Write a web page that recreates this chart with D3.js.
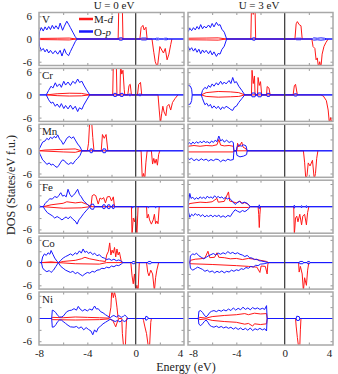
<!DOCTYPE html>
<html>
<head>
<meta charset="utf-8">
<script src="https://cdn.jsdelivr.net/npm/d3@7"></script>
<style>
  body { margin: 0; background: #fff; }
  svg text { font-family: "Liberation Serif", "Times New Roman", serif; fill: #222; }
  .frame { fill: none; stroke: #a8a8a8; stroke-width: 1.5; }
  .tick line { stroke: #999; }
  .axis path { display: none; }
  .zero { stroke: #444; stroke-width: 1.3; }
  .pline { fill: none; stroke: #1818ff; stroke-width: 1; }
  .dline { fill: none; stroke: #ff1818; stroke-width: 1; }
</style>
</head>
<body>
<div id="plot"></div>
<script>
// rows (metals) and columns (Hubbard U)
var metals = ["V", "Cr", "Mn", "Fe", "Co", "Ni"];
var uLabels = ["U = 0 eV", "U = 3 eV"];
var xTicks = [-8, -4, 0, 4];
var yTicks = [6, 0, -6];

// ---- V ----
var V0_pUp = [[-8.0,0],[-7.95,2.0],[-7.8,3.0],[-7.65,2.1],[-7.5,3.2],[-7.35,2.4],[-7.2,3.3],[-7.05,2.5],[-6.9,3.6],[-6.75,2.7],[-6.6,3.5],[-6.4,2.6],[-6.25,4.2],[-6.05,2.3],[-5.9,3.4],[-5.7,4.7],[-5.55,3.9],[-5.4,3.0],[-5.2,1.8],[-5.0,0.6],[-4.85,0],[-1.4,0],[-1.35,0.3],[-1.1,0.3],[-1.05,0],[0.4,0],[0.5,0.25],[0.9,0.25],[0.95,0],[1.6,0],[1.7,0.2],[1.9,0.2],[2.0,0],[2.3,0],[2.4,0.2],[2.6,0.2],[2.7,0],[4,0]];
var V0_pDn = [[-8.0,0],[-7.95,-2.0],[-7.8,-3.0],[-7.65,-2.5],[-7.5,-3.4],[-7.35,-2.7],[-7.2,-3.7],[-7.05,-3.0],[-6.85,-3.9],[-6.65,-3.1],[-6.45,-4.0],[-6.25,-3.0],[-6.1,-4.5],[-5.9,-2.6],[-5.75,-3.8],[-5.55,-4.4],[-5.4,-3.3],[-5.2,-2.0],[-5.0,-0.7],[-4.85,0],[-1.4,0],[-1.35,-0.3],[-1.1,-0.3],[-1.05,0],[0.4,0],[0.5,-0.25],[0.9,-0.25],[0.95,0],[1.6,0],[1.7,-0.2],[1.9,-0.2],[2.0,0],[2.3,0],[2.4,-0.2],[2.6,-0.2],[2.7,0],[4,0]];
var V0_dUp = [[-8,0],[-7.9,0.15],[-6.5,0.2],[-5.5,0.25],[-4.9,0],[-1.45,0],[-1.4,8],[-1.1,8],[-1.05,0],[0.35,0],[0.45,3.0],[0.6,3.6],[0.7,2.4],[0.85,3.1],[0.95,0]];
var V0_dDn = [[-8,0],[-7.9,-0.15],[-6.5,-0.2],[-5.5,-0.25],[-4.9,0],[1.35,0],[1.5,-3.5],[1.62,-6],[1.8,-7.5],[2.0,-2.0],[2.3,-3.7],[2.45,-2.5],[2.6,-5.5],[2.75,-4.0],[2.9,-1.5],[3.0,0]];
var V3_pUp = [[-8,1.9],[-7.85,2.8],[-7.7,2.2],[-7.55,3.0],[-7.4,2.4],[-7.25,3.3],[-7.1,2.6],[-6.95,3.8],[-6.8,2.7],[-6.65,3.4],[-6.5,2.9],[-6.3,3.7],[-6.15,3.0],[-6.0,4.1],[-5.85,3.2],[-5.65,4.4],[-5.5,3.6],[-5.35,3.8],[-5.2,2.6],[-5.0,1.8],[-4.8,0],[-2.7,0],[-2.65,0.3],[-2.45,0.3],[-2.4,0],[0.9,0],[0.95,0.2],[1.35,0.2],[1.4,0],[2.3,0],[2.4,0.3],[2.7,0.2],[3.0,0.3],[3.3,0.2],[3.5,0],[4,0]];
var V3_pDn = [[-8,-1.9],[-7.85,-2.9],[-7.7,-2.3],[-7.55,-3.2],[-7.4,-2.5],[-7.25,-3.5],[-7.1,-2.7],[-6.95,-3.9],[-6.8,-2.9],[-6.65,-3.6],[-6.5,-3.0],[-6.3,-3.9],[-6.15,-3.1],[-6.0,-4.2],[-5.85,-3.4],[-5.65,-4.6],[-5.5,-3.8],[-5.35,-4.0],[-5.2,-2.8],[-5.0,-1.9],[-4.8,0],[-2.7,0],[-2.65,-0.3],[-2.45,-0.3],[-2.4,0],[0.9,0],[0.95,-0.2],[1.35,-0.2],[1.4,0],[2.3,0],[2.4,-0.3],[2.7,-0.2],[3.0,-0.3],[3.3,-0.2],[3.5,0],[4,0]];
var V3_dUp = [[-8,0.2],[-6.5,0.25],[-5.5,0.3],[-4.8,0],[-2.8,0],[-2.75,8],[-2.6,6.5],[-2.45,8],[-2.4,0],[0.85,0],[0.95,4.0],[1.05,4.6],[1.2,3.8],[1.35,3.5],[1.45,0]];
var V3_dDn = [[-8,-0.2],[-6.5,-0.25],[-5.5,-0.3],[-4.8,0],[2.25,0],[2.35,-2],[2.5,-2.5],[2.6,-5.5],[2.7,-5],[2.8,-7.5],[2.9,-6],[3.0,-7.5],[3.1,-4],[3.25,-2],[3.4,-1],[3.6,0]];

// ---- Cr ----
var Cr0_pUp = [[-8,0],[-7.4,0],[-7.2,1.2],[-7.0,2.3],[-6.85,1.8],[-6.65,3.2],[-6.5,2.2],[-6.3,2.9],[-6.15,2.0],[-5.95,3.6],[-5.8,2.6],[-5.6,3.4],[-5.4,2.5],[-5.2,3.6],[-5.0,3.0],[-4.8,4.2],[-4.65,3.3],[-4.45,3.6],[-4.3,2.6],[-4.1,1.5],[-3.8,0],[-1.85,0],[-1.8,0.4],[-1.6,0.4],[-1.55,0],[-1.3,0],[-1.25,0.4],[-1.05,0.4],[-1.0,0],[-0.6,0],[-0.55,0.2],[-0.4,0.2],[-0.35,0],[0.2,0],[0.25,0.2],[0.45,0.2],[0.5,0],[4,0]];
var Cr0_pDn = [[-8,0],[-7.4,0],[-7.2,-1.3],[-7.0,-2.2],[-6.85,-1.9],[-6.65,-3.0],[-6.5,-2.4],[-6.3,-3.3],[-6.15,-2.3],[-5.95,-3.6],[-5.8,-2.8],[-5.6,-3.7],[-5.4,-2.7],[-5.2,-3.8],[-5.0,-3.0],[-4.8,-4.4],[-4.65,-3.4],[-4.45,-3.8],[-4.3,-2.7],[-4.1,-1.6],[-3.8,0],[-1.85,0],[-1.8,-0.4],[-1.6,-0.4],[-1.55,0],[-1.3,0],[-1.25,-0.4],[-1.05,-0.4],[-1.0,0],[-0.6,0],[-0.55,-0.2],[-0.4,-0.2],[-0.35,0],[0.2,0],[0.25,-0.2],[0.45,-0.2],[0.5,0],[4,0]];
var Cr0_dUp = [[-7.4,0],[-6.5,0.3],[-5.5,0.45],[-4.5,0.4],[-3.8,0],[-1.9,0],[-1.85,8],[-1.6,8],[-1.55,0],[-1.3,0],[-1.25,8],[-1.15,5.5],[-1.05,6.5],[-0.95,1.5],[-0.9,0],[-0.65,0],[-0.55,2.5],[-0.45,2.8],[-0.35,0],[0.15,0],[0.25,2.8],[0.4,3.3],[0.5,0]];
var Cr0_dDn = [[-7.4,0],[-6.5,-0.2],[-5.5,-0.3],[-4.5,-0.25],[-3.8,0],[1.85,0],[1.95,-4],[2.05,-7.5],[2.15,-5],[2.25,-3],[2.35,-4.5],[2.5,-5.5],[2.6,-3],[2.75,-2.5],[2.9,-4],[3.05,-2],[3.25,-1],[3.5,0]];
var Cr3_pUp = [[-8.05,2.6],[-7.8,2.3],[-7.7,1.5],[-7.65,0],[-6.9,0],[-6.8,1.2],[-6.6,2.0],[-6.45,1.6],[-6.3,2.5],[-6.15,2.0],[-6.0,2.9],[-5.85,2.3],[-5.65,3.2],[-5.5,2.6],[-5.3,3.6],[-5.15,2.8],[-5.0,3.4],[-4.85,2.9],[-4.6,3.8],[-4.45,3.0],[-4.3,4.6],[-4.15,3.2],[-4.0,3.5],[-3.8,2.3],[-3.55,1.2],[-3.3,0],[-2.75,0],[-2.7,0.5],[-2.45,0.5],[-2.4,0],[-2.25,0],[-2.2,0.5],[-1.95,0.5],[-1.9,0],[-1.5,0],[-1.45,0.4],[-1.25,0.4],[-1.2,0],[0.75,0],[0.8,0.3],[1.0,0.3],[1.05,0],[4,0]];
var Cr3_pDn = [[-8.05,-2.6],[-7.8,-2.4],[-7.7,-1.5],[-7.65,0],[-6.9,0],[-6.8,-1.0],[-6.6,-2.6],[-6.45,-2.2],[-6.3,-3.0],[-6.15,-2.5],[-6.0,-3.5],[-5.85,-2.9],[-5.65,-3.6],[-5.5,-3.0],[-5.3,-3.9],[-5.15,-3.2],[-5.0,-3.6],[-4.85,-3.0],[-4.6,-3.5],[-4.45,-3.9],[-4.3,-4.1],[-4.15,-3.2],[-4.0,-3.0],[-3.8,-2.0],[-3.55,-1.0],[-3.3,0],[-2.75,0],[-2.7,-0.5],[-2.45,-0.5],[-2.4,0],[-2.25,0],[-2.2,-0.5],[-1.95,-0.5],[-1.9,0],[-1.5,0],[-1.45,-0.4],[-1.25,-0.4],[-1.2,0],[0.75,0],[0.8,-0.3],[1.0,-0.3],[1.05,0],[4,0]];
var Cr3_dUp = [[-6.9,0],[-6.5,0.6],[-5.5,0.9],[-4.5,0.8],[-3.8,0.6],[-3.3,0],[-2.75,0],[-2.7,6.5],[-2.6,3],[-2.5,5],[-2.45,0],[-2.25,0],[-2.2,4.6],[-2.1,2.5],[-2.0,3.5],[-1.9,0],[-1.5,0],[-1.45,2.2],[-1.3,1.8],[-1.2,0],[0.7,0],[0.8,2.4],[0.9,2.8],[1.05,0]];
var Cr3_dDn = [[-6.9,0],[-6.5,-0.4],[-5.5,-0.6],[-4.5,-0.5],[-3.8,-0.4],[-3.3,0],[3.0,0],[3.2,-0.3],[3.45,-1.5],[3.6,-4],[3.7,-7.5],[3.8,-6],[3.9,-7.5],[4,-7]];

// ---- Mn ----
var Mn0_pUp = [[-8.05,0],[-7.9,1.0],[-7.7,2.3],[-7.5,2.6],[-7.35,3.3],[-7.2,2.9],[-7.05,3.6],[-6.9,3.2],[-6.75,3.8],[-6.6,3.4],[-6.45,4.2],[-6.3,3.1],[-6.15,2.6],[-6.0,1.7],[-5.85,2.4],[-5.7,3.3],[-5.5,3.8],[-5.3,3.3],[-5.15,3.7],[-4.95,2.6],[-4.8,1.8],[-4.6,1.0],[-4.45,0],[-3.8,0],[-3.75,0.5],[-3.6,0.5],[-3.55,0],[-2.75,0],[-2.7,0.5],[-2.5,0.5],[-2.45,0],[4,0]];
var Mn0_pDn = [[-8.05,0],[-7.9,-1.0],[-7.7,-2.4],[-7.5,-3.0],[-7.35,-3.6],[-7.15,-3.2],[-7.0,-3.8],[-6.85,-3.5],[-6.7,-4.0],[-6.5,-4.4],[-6.35,-3.8],[-6.2,-3.0],[-6.05,-2.4],[-5.9,-2.6],[-5.75,-3.2],[-5.55,-3.6],[-5.35,-3.1],[-5.2,-3.5],[-5.0,-2.6],[-4.8,-2.0],[-4.6,-1.2],[-4.45,0],[-3.8,0],[-3.75,-0.5],[-3.6,-0.5],[-3.55,0],[-2.75,0],[-2.7,-0.5],[-2.5,-0.5],[-2.45,0],[4,0]];
var Mn0_dUp = [[-8,0],[-7.5,0.2],[-6,0.4],[-5,0.5],[-4.5,0],[-4.0,0],[-3.9,2],[-3.8,8],[-3.65,8],[-3.55,3.5],[-3.45,0],[-2.85,0],[-2.75,4.3],[-2.6,3.3],[-2.45,4.3],[-2.3,0]];
var Mn0_dDn = [[-8,0],[-6,-0.3],[-5,-0.4],[-4.5,0],[0.45,0],[0.55,-7.5],[0.65,-6],[0.75,-7.5],[0.85,-3],[0.95,0],[1.3,0],[1.4,-3.5],[1.5,-2.0],[1.6,-3.3],[1.7,-2.2],[1.8,-3.8],[1.9,-1],[2.0,0]];
var Mn3_pUp = [[-8.1,0],[-8.05,1.5],[-7.9,2.2],[-7.75,1.7],[-7.6,2.3],[-7.45,1.9],[-7.3,2.4],[-7.15,2.0],[-7.0,2.5],[-6.85,2.1],[-6.7,2.6],[-6.55,2.2],[-6.4,2.4],[-6.2,2.0],[-6.05,2.6],[-5.9,2.2],[-5.75,2.8],[-5.6,2.4],[-5.45,3.9],[-5.3,2.6],[-5.15,3.0],[-5.0,2.3],[-4.8,2.8],[-4.6,2.2],[-4.4,2.5],[-4.25,2.2],[-4.2,0],[-4.0,0],[-3.95,1.0],[-3.8,1.6],[-3.6,1.2],[-3.4,1.6],[-3.2,1.3],[-3.1,0],[4,0]];
var Mn3_pDn = [[-8.1,0],[-8.05,-1.6],[-7.9,-2.3],[-7.7,-2.0],[-7.5,-2.6],[-7.3,-2.2],[-7.1,-2.6],[-6.9,-2.1],[-6.7,-2.5],[-6.5,-2.2],[-6.3,-2.7],[-6.1,-2.3],[-5.9,-2.6],[-5.7,-2.2],[-5.5,-2.3],[-5.3,-2.9],[-5.1,-2.4],[-4.9,-2.7],[-4.7,-2.2],[-4.5,-2.5],[-4.25,-2.3],[-4.2,0],[-4.0,0],[-3.95,-1.2],[-3.7,-1.6],[-3.4,-1.4],[-3.15,-1.0],[-3.1,0],[4,0]];
var Mn3_dUp = [[-8.1,0],[-8.0,1.2],[-7.5,1.4],[-7,1.2],[-6.5,1.4],[-6,1.3],[-5.6,1.6],[-5.45,3.0],[-5.3,1.5],[-5,1.3],[-4.6,1.4],[-4.25,1.2],[-4.2,0],[-3.95,0],[-3.9,2.0],[-3.8,1.0],[-3.7,1.5],[-3.55,2.3],[-3.45,1.0],[-3.2,0.5],[-3.1,0]];
var Mn3_dDn = [[-8.1,0],[-8,-0.3],[-4.25,-0.3],[-4.2,0],[1.55,0],[1.65,-3],[1.75,-7.5],[1.85,-6.5],[1.95,-3.2],[2.1,-4],[2.3,-2.5],[2.45,-7.5],[2.55,-6],[2.65,-2],[2.75,0]];

// ---- Fe ----
var Fe0_pUp = [[-8,0],[-7.95,0.3],[-7.85,0],[-7.65,0],[-7.5,0.8],[-7.3,1.5],[-7.1,2.1],[-6.9,2.0],[-6.7,2.7],[-6.5,2.4],[-6.35,3.0],[-6.2,3.7],[-6.05,2.8],[-5.9,3.0],[-5.75,2.6],[-5.6,4.6],[-5.45,3.3],[-5.3,2.6],[-5.15,3.0],[-5.0,3.6],[-4.8,4.6],[-4.65,3.2],[-4.5,2.6],[-4.3,1.5],[-4.05,0.8],[-3.8,0],[-3.7,0.6],[-3.5,0.7],[-3.4,0],[-2.75,0],[-2.7,0.5],[-2.55,0.5],[-2.5,0],[-2.35,0],[-2.3,0.5],[-2.15,0.5],[-2.1,0],[-1.95,0],[-1.9,0.5],[-1.8,0.5],[-1.75,0],[4,0]];
var Fe0_pDn = [[-8,0],[-7.95,-0.3],[-7.85,0],[-7.65,0],[-7.5,-0.8],[-7.3,-1.6],[-7.1,-2.0],[-6.9,-2.4],[-6.7,-3.0],[-6.5,-2.6],[-6.3,-3.0],[-6.1,-3.5],[-5.9,-3.0],[-5.75,-2.7],[-5.6,-3.2],[-5.4,-2.6],[-5.2,-3.3],[-5.0,-3.8],[-4.85,-4.6],[-4.7,-3.5],[-4.5,-2.7],[-4.3,-1.8],[-4.05,-0.9],[-3.8,0],[-3.7,-0.6],[-3.5,-0.7],[-3.4,0],[-2.75,0],[-2.7,-0.5],[-2.55,-0.5],[-2.5,0],[-2.35,0],[-2.3,-0.5],[-2.15,-0.5],[-2.1,0],[-1.95,0],[-1.9,-0.5],[-1.8,-0.5],[-1.75,0],[-0.3,0],[-0.25,-0.3],[-0.15,0],[1.0,0],[1.05,-0.3],[1.15,0],[1.6,0],[1.65,-0.3],[1.75,0],[4,0]];
var Fe0_dUp = [[-7.65,0],[-7,0.5],[-6,0.9],[-5.7,1.3],[-5,1.0],[-4.5,1.2],[-4,0.6],[-3.7,0],[-3.6,2.9],[-3.45,3.2],[-3.3,2.9],[-3.1,0.7],[-2.95,2.3],[-2.8,2.0],[-2.65,2.4],[-2.5,1.0],[-2.35,2.6],[-2.15,2.7],[-2.0,1.5],[-1.85,2.6],[-1.75,0]];
var Fe0_dDn = [[-7.65,0],[-6,-0.4],[-4.5,-0.3],[-3.8,0],[-0.35,0],[-0.3,-7.5],[-0.2,-3],[-0.1,-4],[0.0,-2.5],[0.1,-7.5],[0.2,0],[0.9,0],[0.95,-3],[1.05,-2],[1.15,-3.5],[1.3,-4.6],[1.45,-3.5],[1.55,-2],[1.65,-4.5],[1.75,-3.8],[1.85,-4.5],[1.95,0]];
var Fe3_pUp = [[-8.0,0],[-7.95,1.5],[-7.85,3.5],[-7.75,2.2],[-7.6,2.5],[-7.45,1.9],[-7.3,2.4],[-7.15,2.0],[-7.0,2.6],[-6.85,2.2],[-6.7,2.5],[-6.55,2.1],[-6.4,2.8],[-6.25,2.3],[-6.1,2.6],[-5.95,2.2],[-5.8,2.9],[-5.65,2.4],[-5.5,2.7],[-5.35,2.3],[-5.2,2.6],[-5.05,2.1],[-4.9,2.5],[-4.75,2.0],[-4.6,2.3],[-4.45,1.9],[-4.3,1.3],[-4.1,0.6],[-3.95,1.0],[-3.75,1.4],[-3.55,0.9],[-3.35,1.2],[-3.1,0.9],[-2.95,0.4],[-2.85,0],[-2.15,0],[-2.1,0.5],[-2.05,0],[0.75,0],[0.8,0.4],[0.85,0],[1.35,0],[1.4,0.3],[1.45,0],[1.75,0],[1.8,0.3],[1.85,0],[4,0]];
var Fe3_pDn = [[-8,0],[-7.95,-1.5],[-7.85,-2.8],[-7.7,-2.0],[-7.55,-2.4],[-7.4,-1.8],[-7.25,-2.3],[-7.1,-2.0],[-6.95,-2.6],[-6.8,-2.1],[-6.6,-2.7],[-6.45,-2.3],[-6.3,-2.6],[-6.1,-2.2],[-5.95,-2.7],[-5.8,-2.3],[-5.6,-2.6],[-5.45,-2.2],[-5.3,-2.8],[-5.1,-2.4],[-4.9,-2.8],[-4.7,-2.3],[-4.5,-2.6],[-4.3,-1.6],[-4.1,-0.8],[-3.9,-1.2],[-3.7,-1.5],[-3.5,-1.0],[-3.3,-1.3],[-3.1,-0.9],[-2.95,-0.4],[-2.85,0],[-2.15,0],[-2.1,-0.5],[-2.05,0],[0.75,0],[0.8,-0.4],[0.85,0],[1.35,0],[1.4,-0.3],[1.45,0],[1.75,0],[1.8,-0.3],[1.85,0],[4,0]];
var Fe3_dUp = [[-8,0],[-7.9,0.8],[-7.5,1.0],[-7,1.2],[-6.5,1.1],[-6.0,1.3],[-5.6,2.2],[-5.5,1.2],[-5.0,1.4],[-4.65,3.9],[-4.55,1.5],[-4.3,1.3],[-4.0,1.0],[-3.7,1.5],[-3.5,0.8],[-3.3,1.1],[-3.0,0.6],[-2.85,0]];
var Fe3_dDn = [[-8,0],[-7.9,-0.2],[-3,-0.2],[-2.85,0],[-2.2,0],[-2.15,-2],[-2.1,-5.5],[-2.05,-2],[-2.0,0],[0.75,0],[0.8,-7.5],[0.9,-3],[1.0,-2.5],[1.1,-4],[1.25,-2],[1.4,-4.8],[1.5,-2.5],[1.65,-2],[1.8,-4.8],[1.9,-1.5],[2.0,0]];

// ---- Co ----
var Co0_pUp = [[-8,0],[-7.8,0],[-7.7,1.5],[-7.55,2.3],[-7.4,1.9],[-7.25,2.6],[-7.1,2.2],[-7.0,3.2],[-6.85,2.2],[-6.7,1.2],[-6.5,0.3],[-6.4,0],[-6.2,0.6],[-6.0,1.2],[-5.8,1.6],[-5.6,1.9],[-5.4,2.3],[-5.2,1.9],[-5.0,2.6],[-4.85,2.2],[-4.65,3.1],[-4.5,2.5],[-4.35,3.6],[-4.2,2.7],[-4.05,3.0],[-3.9,2.4],[-3.75,2.8],[-3.55,2.1],[-3.4,2.5],[-3.2,1.8],[-3.0,2.1],[-2.8,1.4],[-2.6,1.2],[-2.4,0.8],[-2.2,1.0],[-2.0,0.6],[-1.8,0.9],[-1.6,0.5],[-1.4,0.7],[-1.2,0.4],[-1.05,0],[-0.3,0],[-0.25,0.3],[-0.1,0.3],[-0.05,0],[1.0,0],[1.05,0.3],[1.25,0.3],[1.3,0],[4,0]];
var Co0_pDn = [[-8,0],[-7.8,0],[-7.7,-1.4],[-7.55,-2.0],[-7.35,-2.4],[-7.15,-2.1],[-7.0,-2.6],[-6.8,-2.0],[-6.6,-1.0],[-6.4,0],[-6.2,-1.0],[-6.0,-1.5],[-5.8,-2.0],[-5.6,-2.3],[-5.4,-2.6],[-5.2,-2.3],[-5.0,-2.9],[-4.8,-2.6],[-4.6,-3.1],[-4.4,-3.5],[-4.2,-3.0],[-4.0,-2.6],[-3.8,-2.8],[-3.6,-2.3],[-3.4,-2.5],[-3.2,-2.0],[-3.0,-1.9],[-2.8,-1.5],[-2.6,-1.6],[-2.4,-1.2],[-2.2,-1.4],[-2.0,-0.9],[-1.8,-1.1],[-1.6,-0.7],[-1.4,-0.8],[-1.2,-0.4],[-1.05,0],[-0.3,0],[-0.25,-0.3],[-0.1,-0.3],[-0.05,0],[1.0,0],[1.05,-0.3],[1.25,-0.3],[1.3,0],[4,0]];
var Co0_dUp = [[-7.8,0],[-7,0.2],[-6.4,0],[-6,0.3],[-5,0.6],[-4.5,1.0],[-4.2,1.4],[-3.8,1.0],[-3,0.5],[-2.5,0.3],[-2.4,2.0],[-2.25,3.0],[-2.15,5.2],[-2.05,2.0],[-1.95,3.3],[-1.85,2.5],[-1.75,4.0],[-1.65,1.5],[-1.55,3.6],[-1.45,2.0],[-1.35,2.8],[-1.2,0.5],[-1.1,0]];
var Co0_dDn = [[-7.8,0],[-6.4,0],[-5,-0.3],[-3,-0.4],[-2.4,0],[-0.4,0],[-0.3,-3.5],[-0.2,-5.6],[-0.1,-3],[0.0,-7.5],[0.1,-6],[0.2,-7.5],[0.3,0],[0.9,0],[1.0,-2.6],[1.1,-3.5],[1.25,-2],[1.4,-3],[1.55,-7.5],[1.65,-4],[1.75,-2],[1.9,0]];
var Co3_pUp = [[-7.85,0],[-7.8,1.8],[-7.6,2.3],[-7.45,2.1],[-7.3,2.5],[-7.1,1.8],[-6.9,1.4],[-6.7,1.0],[-6.5,1.4],[-6.3,1.8],[-6.1,2.1],[-5.9,2.4],[-5.7,2.0],[-5.5,2.5],[-5.3,2.2],[-5.1,2.6],[-4.9,2.3],[-4.7,2.9],[-4.5,2.4],[-4.3,2.7],[-4.1,2.3],[-3.9,2.6],[-3.7,2.2],[-3.5,2.0],[-3.3,1.6],[-3.1,1.9],[-2.9,1.3],[-2.7,1.2],[-2.5,0.8],[-2.3,0.9],[-2.1,0.5],[-1.9,0.4],[-1.6,0.2],[-1.35,0],[1.2,0],[1.25,0.3],[1.5,0.3],[1.55,0],[1.85,0],[1.9,0.3],[2.05,0.3],[2.1,0],[4,0]];
var Co3_pDn = [[-7.85,0],[-7.8,-1.5],[-7.6,-2.0],[-7.4,-1.6],[-7.2,-1.2],[-7.0,-1.5],[-6.8,-1.8],[-6.6,-2.3],[-6.4,-2.0],[-6.2,-2.5],[-6.0,-2.2],[-5.8,-2.7],[-5.6,-2.3],[-5.4,-2.6],[-5.2,-2.2],[-5.0,-2.7],[-4.8,-2.3],[-4.6,-2.5],[-4.4,-2.0],[-4.2,-2.3],[-4.0,-1.9],[-3.8,-2.1],[-3.6,-1.6],[-3.4,-1.8],[-3.2,-1.3],[-3.0,-1.5],[-2.8,-1.0],[-2.6,-1.2],[-2.4,-0.7],[-2.2,-0.8],[-2.0,-0.4],[-1.7,-0.3],[-1.35,0],[1.2,0],[1.25,-0.3],[1.5,-0.3],[1.55,0],[1.85,0],[1.9,-0.3],[2.05,-0.3],[2.1,0],[4,0]];
var Co3_dUp = [[-7.85,0],[-7.8,0.6],[-7.4,0.9],[-7.0,1.0],[-6.6,1.2],[-6.35,3.0],[-6.2,1.3],[-5.8,1.4],[-5.6,2.6],[-5.45,1.4],[-5,1.3],[-4.5,1.0],[-4,1.1],[-3.5,0.8],[-3,1.1],[-2.5,0.9],[-2,0.6],[-1.5,0.3],[-1.35,0]];
var Co3_dDn = [[-7.85,0],[-7.8,-0.3],[-6,-0.5],[-4,-0.8],[-3,-1.0],[-2.3,-1.2],[-2.05,-2.6],[-1.95,-0.9],[-1.6,-1.0],[-1.45,-3.0],[-1.4,-0.6],[-1.35,0],[1.15,0],[1.2,-2.5],[1.3,-1.0],[1.45,-3],[1.55,-7.5],[1.65,-4],[1.8,-6],[1.9,-2],[2.0,0]];

// ---- Ni ----
var Ni0_pUp = [[-8,0],[-6.95,0],[-6.9,2.2],[-6.75,2.0],[-6.6,1.5],[-6.45,0.8],[-6.3,0.4],[-6.15,0.4],[-6.0,0.6],[-5.85,1.2],[-5.7,1.8],[-5.5,2.1],[-5.3,2.2],[-5.1,2.6],[-4.9,2.2],[-4.75,3.2],[-4.6,2.5],[-4.4,2.0],[-4.2,2.4],[-4.0,2.0],[-3.8,2.5],[-3.6,2.2],[-3.4,3.3],[-3.25,2.5],[-3.1,2.6],[-2.9,1.8],[-2.7,1.5],[-2.5,1.0],[-2.3,0.6],[-2.1,0.2],[-1.95,0.6],[-1.8,0.8],[-1.6,0.4],[-1.4,0.8],[-1.2,0.3],[-1.0,0.6],[-0.9,0.9],[-0.75,0.5],[-0.65,0],[0.8,0],[0.85,0.6],[1.0,0.4],[1.05,0],[4,0]];
var Ni0_pDn = [[-8,0],[-6.95,0],[-6.9,-2.3],[-6.75,-2.2],[-6.6,-1.6],[-6.45,-0.8],[-6.3,-0.4],[-6.15,-0.4],[-6.0,-0.8],[-5.8,-1.3],[-5.6,-1.8],[-5.4,-2.2],[-5.1,-2.3],[-4.9,-2.1],[-4.7,-2.6],[-4.5,-2.2],[-4.3,-3.0],[-4.1,-2.4],[-3.9,-2.9],[-3.7,-3.3],[-3.55,-4.3],[-3.4,-3.0],[-3.25,-3.6],[-3.1,-2.5],[-2.9,-2.0],[-2.7,-1.4],[-2.5,-1.0],[-2.3,-0.6],[-2.1,-0.2],[-1.9,-0.5],[-1.7,-0.8],[-1.5,-0.5],[-1.3,-0.9],[-1.1,-0.4],[-0.95,-0.8],[-0.8,-0.6],[-0.65,0],[0.8,0],[0.85,-0.5],[1.05,0],[4,0]];
var Ni0_dUp = [[-6.95,0],[-6.9,0.3],[-6,0.2],[-5,0.4],[-4,0.3],[-3,0.2],[-2.2,0.1],[-2.05,3],[-1.97,8],[-1.85,5.5],[-1.75,7],[-1.65,5.5],[-1.55,3],[-1.45,0]];
var Ni0_dDn = [[-6.95,0],[-6.9,-0.3],[-5,-0.4],[-3,-0.3],[-2.2,-0.1],[-1.9,-0.5],[-1.75,-1.5],[-1.65,-2.2],[-1.55,-1.2],[-1.4,0],[-1.15,0],[-1.1,-4],[-1.0,-7.5],[-0.85,-7.5],[-0.8,-3],[-0.75,0],[0.6,0],[0.65,-0.5],[0.75,-2],[0.9,-4],[1.05,-7.5],[1.15,-7.5],[1.25,-1],[1.3,0]];
var Ni3_pUp = [[-8,0],[-7.15,0],[-7.1,1.9],[-6.95,2.1],[-6.8,1.6],[-6.65,0.9],[-6.5,0.4],[-6.35,0.9],[-6.2,1.6],[-6.05,1.9],[-5.85,2.1],[-5.65,1.8],[-5.45,2.2],[-5.25,1.9],[-5.05,2.3],[-4.85,2.0],[-4.65,2.5],[-4.45,2.1],[-4.25,2.8],[-4.05,2.2],[-3.85,2.7],[-3.65,2.3],[-3.45,3.0],[-3.25,2.4],[-3.05,2.8],[-2.85,2.3],[-2.65,2.9],[-2.45,2.5],[-2.25,2.8],[-2.05,2.4],[-1.85,2.7],[-1.65,2.4],[-1.5,3.4],[-1.45,0],[0.95,0],[1.0,0.6],[1.2,0.5],[1.25,0],[4,0]];
var Ni3_pDn = [[-8,0],[-7.15,0],[-7.1,-1.5],[-6.95,-1.9],[-6.8,-1.4],[-6.65,-0.8],[-6.5,-0.4],[-6.35,-1.0],[-6.2,-1.8],[-6.05,-2.1],[-5.85,-2.3],[-5.65,-2.0],[-5.45,-2.4],[-5.25,-2.1],[-5.05,-2.5],[-4.85,-2.2],[-4.65,-2.6],[-4.45,-2.3],[-4.25,-2.8],[-4.05,-2.4],[-3.85,-2.9],[-3.65,-2.5],[-3.45,-3.0],[-3.25,-2.6],[-3.05,-3.1],[-2.85,-2.5],[-2.65,-3.2],[-2.45,-2.7],[-2.25,-3.0],[-2.05,-2.6],[-1.85,-3.0],[-1.65,-2.7],[-1.5,-3.3],[-1.45,0],[0.95,0],[1.0,-0.5],[1.2,-0.5],[1.25,0],[4,0]];
var Ni3_dUp = [[-7.1,0],[-7.05,0.3],[-6.5,0.1],[-6,0.5],[-5,0.8],[-4,1.0],[-3.3,1.3],[-3,1.0],[-2.5,1.4],[-2,1.2],[-1.5,1.3],[-1.45,0]];
var Ni3_dDn = [[-7.1,0],[-7.05,-0.3],[-6.5,-0.1],[-6,-0.5],[-5,-0.8],[-4,-1.0],[-3.3,-1.5],[-3.0,-1.3],[-2.65,-2.0],[-2.5,-1.4],[-2,-1.6],[-1.5,-1.4],[-1.45,0],[0.9,0],[0.95,-2],[1.05,-5],[1.15,-7.5],[1.25,-7.5],[1.3,-3],[1.35,0]];

// table built from the arrays: [row][col] -> curves
var curves = [
  [[V0_pUp, V0_pDn, V0_dUp, V0_dDn], [V3_pUp, V3_pDn, V3_dUp, V3_dDn]],
  [[Cr0_pUp, Cr0_pDn, Cr0_dUp, Cr0_dDn], [Cr3_pUp, Cr3_pDn, Cr3_dUp, Cr3_dDn]],
  [[Mn0_pUp, Mn0_pDn, Mn0_dUp, Mn0_dDn], [Mn3_pUp, Mn3_pDn, Mn3_dUp, Mn3_dDn]],
  [[Fe0_pUp, Fe0_pDn, Fe0_dUp, Fe0_dDn], [Fe3_pUp, Fe3_pDn, Fe3_dUp, Fe3_dDn]],
  [[Co0_pUp, Co0_pDn, Co0_dUp, Co0_dDn], [Co3_pUp, Co3_pDn, Co3_dUp, Co3_dDn]],
  [[Ni0_pUp, Ni0_pDn, Ni0_dUp, Ni0_dDn], [Ni3_pUp, Ni3_pDn, Ni3_dUp, Ni3_dDn]]
];

var width = 338, height = 374;
var colX = [39, 188], pw = 145,
    top0 = 12.5, rowStep = 55.9, ph = 53;

var svg = d3.select("#plot").append("svg")
    .attr("width", width).attr("height", height);

var x = d3.scaleLinear().domain([-8, 4]).range([0, pw]);
var y = d3.scaleLinear().domain([-7, 7]).range([ph, 0]);

var line = d3.line()
    .x(function(d){ return x(d[0]); })
    .y(function(d){ return y(d[1]); });

svg.append("defs").append("clipPath").attr("id", "clip")
    .append("rect").attr("width", pw).attr("height", ph);

metals.forEach(function(m, r){
    [0, 1].forEach(function(c){
        var g = svg.append("g")
            .attr("transform", "translate(" + colX[c] + "," + (top0 + r*rowStep) + ")");

        // inward minor ticks
        g.append("g").attr("class","axis").attr("transform","translate(0," + ph + ")")
            .call(d3.axisBottom(x).tickValues([-6,-4,-2,2]).tickSize(-2.5).tickFormat(""));
        g.append("g").attr("class","axis")
            .call(d3.axisTop(x).tickValues([-6,-4,-2,2]).tickSize(-2.5).tickFormat(""));
        g.append("g").attr("class","axis")
            .call(d3.axisLeft(y).tickValues([-6,-3,3,6]).tickSize(-2.5).tickFormat(""));
        g.append("g").attr("class","axis").attr("transform","translate(" + pw + ",0)")
            .call(d3.axisRight(y).tickValues([-6,-3,3,6]).tickSize(-2.5).tickFormat(""));

        var cg = g.append("g").attr("clip-path", "url(#clip)");
        var set = curves[r][c];
        cg.append("path").attr("class","dline").attr("d", line(set[2]));
        cg.append("path").attr("class","dline").attr("d", line(set[3]));
        cg.append("path").attr("class","pline").attr("d", line(set[0]));
        cg.append("path").attr("class","pline").attr("d", line(set[1]));

        g.append("line").attr("class","zero")
            .attr("x1", x(0)).attr("x2", x(0)).attr("y1", 0).attr("y2", ph);

        g.append("rect").attr("class","frame").attr("width", pw).attr("height", ph);

        if (c === 0) {
            g.append("text").attr("x", 3).attr("y", 10.5)
                .style("font-size", "11px").text(m);
            g.append("g").attr("class","axis ylab").attr("transform","translate(-4,0)")
                .call(d3.axisLeft(y).tickValues(yTicks).tickSize(0)
                    .tickFormat(function(d){ return String(d); }))
                .selectAll("text").style("font-size","11px")
                .style("font-family", "'Liberation Serif', serif").attr("fill", "#222");
        }
        if (r === metals.length - 1) {
            g.append("g").attr("class","axis").attr("transform","translate(0," + (ph + 1) + ")")
                .call(d3.axisBottom(x).tickValues(xTicks).tickSize(0)
                    .tickFormat(function(d){ return String(d); }))
                .selectAll("text").style("font-size","11px")
                .style("font-family", "'Liberation Serif', serif").attr("fill", "#222")
                .attr("dx", function(d){
                    if (d === 4) return -4;
                    if (d === -8 && c === 1) return 5;
                    return 0;
                });
        }
    });
});

// column titles
svg.selectAll("text.utitle").data(uLabels).enter().append("text")
    .attr("class","utitle")
    .attr("x", function(d, i){ return [114, 259][i]; })
    .attr("y", 9)
    .attr("text-anchor","middle")
    .style("font-size","11px")
    .text(function(d){ return d; });

// legend
var leg = svg.append("g").attr("transform","translate(79,19)");
leg.append("line").attr("x1",0).attr("x2",14).attr("y1",0).attr("y2",0)
    .attr("stroke","#ff1818").attr("stroke-width",2.5);
leg.append("line").attr("x1",0).attr("x2",14).attr("y1",12.5).attr("y2",12.5)
    .attr("stroke","#1818ff").attr("stroke-width",2.5);
var t1 = leg.append("text").attr("x",15).attr("y",4).style("font-size","11px");
t1.append("tspan").text("M-");
t1.append("tspan").style("font-style","italic").text("d");
var t2 = leg.append("text").attr("x",15).attr("y",16.5).style("font-size","11px");
t2.append("tspan").text("O-");
t2.append("tspan").style("font-style","italic").text("p");

// axis titles
svg.append("text").attr("x", 186).attr("y", 371)
    .attr("text-anchor","middle").style("font-size","12px").text("Energy (eV)");
svg.append("text")
    .attr("transform","translate(15,185) rotate(-90)")
    .attr("text-anchor","middle").style("font-size","12px")
    .text("DOS (States/eV f.u.)");
</script>
</body>
</html>
